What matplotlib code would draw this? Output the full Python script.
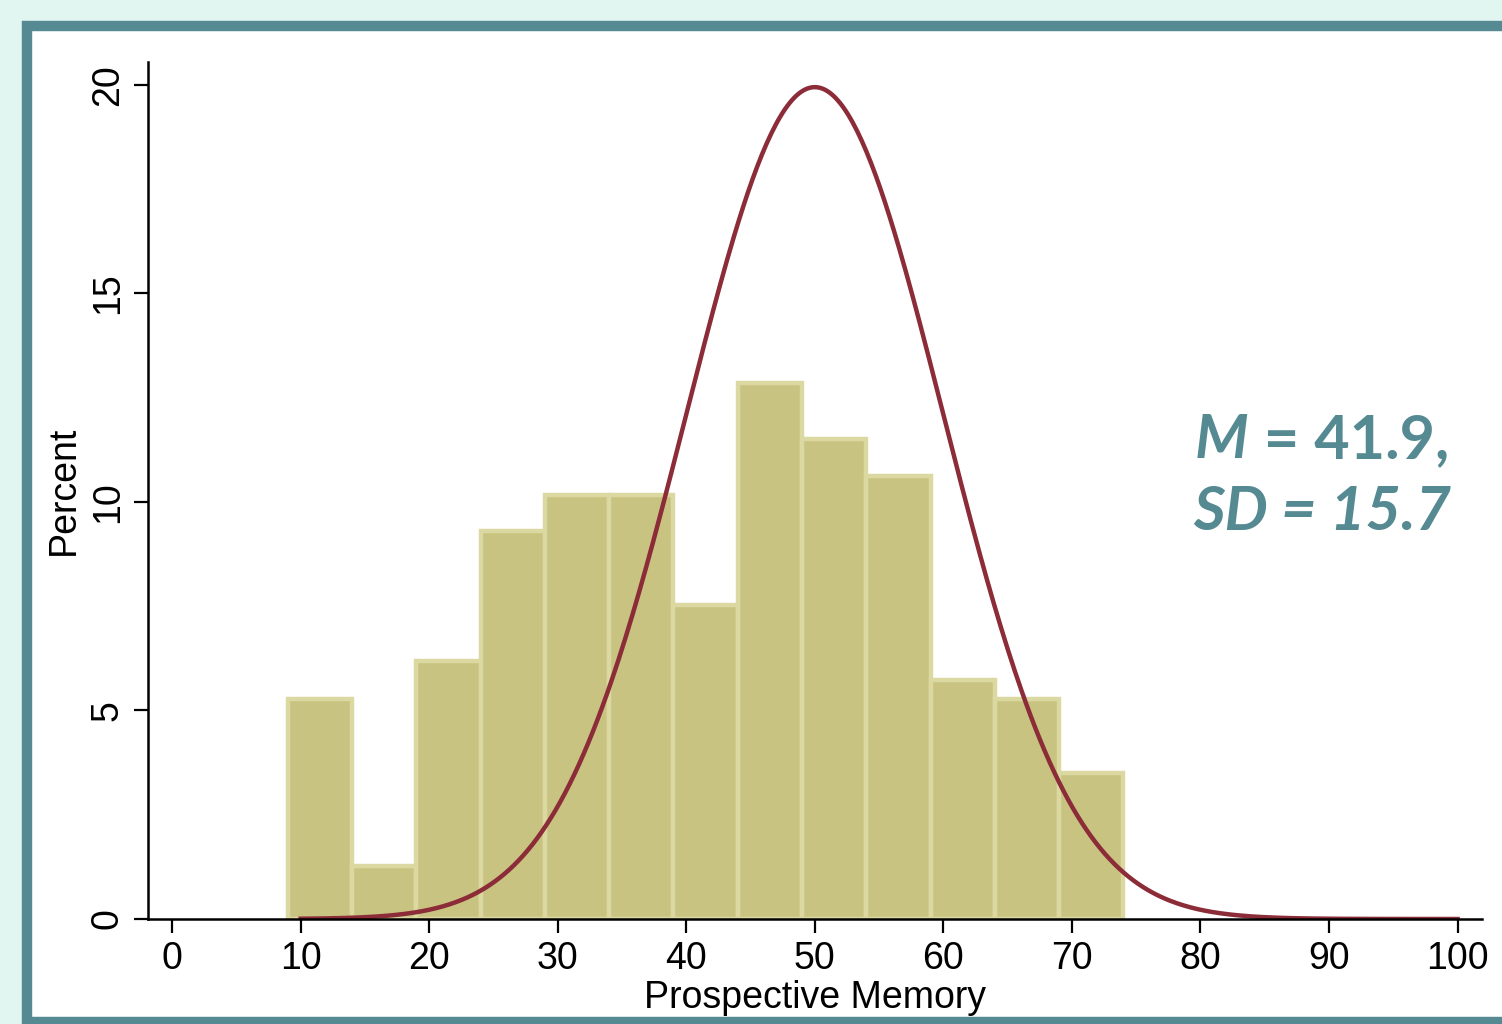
import numpy as np
import matplotlib.pyplot as plt
from matplotlib.patches import Rectangle

# Histogram data (percent per bin of width 5, starting at 9)
bin_edges = [9, 14, 19, 24, 29, 34, 39, 44, 49, 54, 59, 64, 69, 74]
percents = [5.28, 1.27, 6.19, 9.30, 10.17, 10.17, 7.53, 12.85, 11.51, 10.62, 5.73, 5.28, 3.50]

# Overlaid normal curve parameters
curve_mean = 50
curve_sd = 10
curve_start, curve_end = 10, 100

xticks = list(range(0, 101, 10))
yticks = [0, 5, 10, 15, 20]

teal = '#568a92'
mint = '#e2f6f1'

W, H = 1502, 1024
fig = plt.figure(figsize=(W / 100, H / 100), dpi=100, facecolor=mint)

# teal frame with white inside
frame = Rectangle((27 / W, 2 / H), 1.2, (H - 25.5 - 2) / H, transform=fig.transFigure,
                  facecolor='white', edgecolor=teal, linewidth=7.5, zorder=0)
fig.add_artist(frame)

ax = fig.add_axes([148 / W, 105 / H, (1482 - 148) / W, (962 - 105) / H])
ax.set_facecolor('none')

widths = np.diff(bin_edges)
ax.bar(bin_edges[:-1], percents, width=widths, align='edge',
       color='#c9c381', edgecolor='#dcd8a2', linewidth=3.2, zorder=2)

# normal curve scaled to percent per bin
bw = widths[0]
xs = np.linspace(curve_start, curve_end, 500)
ys = 100 * bw / (curve_sd * np.sqrt(2 * np.pi)) * np.exp(-0.5 * ((xs - curve_mean) / curve_sd) ** 2)
ax.plot(xs, ys, color='#8b2c38', linewidth=3.2, zorder=3)

ax.set_xlim(-1.87, 101.9)
ax.set_ylim(0, 20.55)
ax.set_xticks(xticks)
ax.set_yticks(yticks)

for s in ['top', 'right']:
    ax.spines[s].set_visible(False)
for s in ['left', 'bottom']:
    ax.spines[s].set_linewidth(1.8)
    ax.spines[s].set_zorder(4)

font = 'Liberation Sans'
ax.tick_params(axis='both', length=10, width=1.6, labelsize=27, pad=6)
for lab in ax.get_xticklabels() + ax.get_yticklabels():
    lab.set_fontfamily(font)
for lab in ax.get_yticklabels():
    lab.set_rotation(90)
    lab.set_verticalalignment('center')

ax.set_xlabel('Prospective Memory', fontsize=27, family=font, labelpad=2)
ax.set_ylabel('Percent', fontsize=27, family=font, labelpad=6)

# M / SD annotation
afont = 'Lato'
asize = 44
m_txt = fig.text(1195 / W, (H - 458) / H, 'M', color=teal, fontsize=asize, family=afont,
                 weight='bold', style='italic', ha='left', va='baseline')
fig.canvas.draw()
m_box = m_txt.get_window_extent()
fig.text(m_box.x1 / W, (H - 458) / H, ' = 41.9,', color=teal, fontsize=asize, family=afont,
         weight='bold', ha='left', va='baseline')
fig.text(1193 / W, (H - 530) / H, 'SD = 15.7', color=teal, fontsize=asize, family=afont,
         weight='bold', style='italic', ha='left', va='baseline')

plt.savefig('out.png', dpi=100, facecolor=mint)
